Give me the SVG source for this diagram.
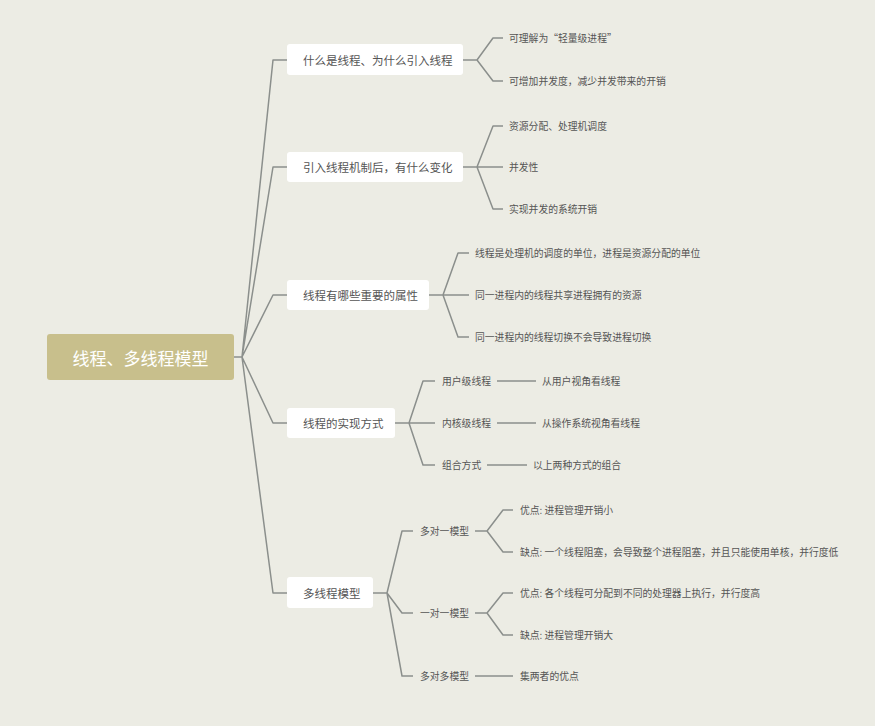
<svg xmlns="http://www.w3.org/2000/svg" width="875" height="726" viewBox="0 0 875 726">
<style>
.ln{fill:none;stroke:#8b8f8c;stroke-width:1.5;stroke-linejoin:round}
.box{fill:#ffffff}
.t1{font-family:"Noto Sans CJK SC","Liberation Serif",serif;font-size:11.5px;fill:#555555;dominant-baseline:central}
.t2{font-family:"Noto Sans CJK SC","Liberation Serif",serif;font-size:9.8px;fill:#555555;dominant-baseline:central}
.root{font-family:"Noto Sans CJK SC","Liberation Serif",serif;font-size:17px;fill:#ffffff;dominant-baseline:central;text-anchor:middle}
</style>
<rect width="875" height="726" fill="#ecece4"/>
<g id="connectors">
<path class="ln" d="M234 357H242L273 60H287M242 357L273 167H287M242 357L273 295H287M242 357L273 423H287M242 357L273 593H287"/>
<path class="ln" d="M463 60H477L493 38H503M477 60L493 81H503"/>
<path class="ln" d="M463 167H477L493 126H503M477 167H503M477 167L493 209H503"/>
<path class="ln" d="M429 295H443L458 253H469M443 295H469M443 295L458 337H469"/>
<path class="ln" d="M395 423H409L423 381H435M409 423H435M409 423L423 465H435"/>
<path class="ln" d="M497 381H536M497 423H536M487 465H527"/>
<path class="ln" d="M373 593H387L402 531H413M387 593L402 613H413M387 593L402 676H413"/>
<path class="ln" d="M475 531H487L503 510H513M487 531L503 552H513"/>
<path class="ln" d="M475 613H487L503 593H513M487 613L503 635H513"/>
<path class="ln" d="M475 676H513"/>
</g>
<g id="root">
<rect x="47" y="334" width="187" height="46" rx="3" fill="#c8bf8c"/>
<text class="root" x="140.5" y="357">线程、多线程模型</text>
</g>
<g id="n1">
<rect class="box" x="287" y="44" width="176" height="31" rx="3"/>
<text class="t1" x="303" y="60">什么是线程、为什么引入线程</text>
</g>
<g id="n1a"><text class="t2" x="509" y="38">可理解为“轻量级进程”</text></g>
<g id="n1b"><text class="t2" x="509" y="81">可增加并发度，减少并发带来的开销</text></g>
<g id="n2">
<rect class="box" x="287" y="152" width="176" height="30" rx="3"/>
<text class="t1" x="303" y="167">引入线程机制后，有什么变化</text>
</g>
<g id="n2a"><text class="t2" x="509" y="126">资源分配、处理机调度</text></g>
<g id="n2b"><text class="t2" x="509" y="167">并发性</text></g>
<g id="n2c"><text class="t2" x="509" y="209">实现并发的系统开销</text></g>
<g id="n3">
<rect class="box" x="287" y="280" width="142" height="30" rx="3"/>
<text class="t1" x="303" y="295">线程有哪些重要的属性</text>
</g>
<g id="n3a"><text class="t2" x="475" y="253">线程是处理机的调度的单位，进程是资源分配的单位</text></g>
<g id="n3b"><text class="t2" x="475" y="295">同一进程内的线程共享进程拥有的资源</text></g>
<g id="n3c"><text class="t2" x="475" y="337">同一进程内的线程切换不会导致进程切换</text></g>
<g id="n4">
<rect class="box" x="287" y="408" width="108" height="30" rx="3"/>
<text class="t1" x="303" y="423">线程的实现方式</text>
</g>
<g id="n4a"><text class="t2" x="442" y="381">用户级线程</text></g>
<g id="n4a1"><text class="t2" x="542" y="381">从用户视角看线程</text></g>
<g id="n4b"><text class="t2" x="442" y="423">内核级线程</text></g>
<g id="n4b1"><text class="t2" x="542" y="423">从操作系统视角看线程</text></g>
<g id="n4c"><text class="t2" x="442" y="465">组合方式</text></g>
<g id="n4c1"><text class="t2" x="533" y="465">以上两种方式的组合</text></g>
<g id="n5">
<rect class="box" x="287" y="577" width="86" height="31" rx="3"/>
<text class="t1" x="303" y="593">多线程模型</text>
</g>
<g id="n5a"><text class="t2" x="420" y="531">多对一模型</text></g>
<g id="n5a1"><text class="t2" x="520" y="510">优点: 进程管理开销小</text></g>
<g id="n5a2"><text class="t2" x="520" y="552">缺点: 一个线程阻塞，会导致整个进程阻塞，并且只能使用单核，并行度低</text></g>
<g id="n5b"><text class="t2" x="420" y="613">一对一模型</text></g>
<g id="n5b1"><text class="t2" x="520" y="593">优点: 各个线程可分配到不同的处理器上执行，并行度高</text></g>
<g id="n5b2"><text class="t2" x="520" y="635">缺点: 进程管理开销大</text></g>
<g id="n5c"><text class="t2" x="420" y="676">多对多模型</text></g>
<g id="n5c1"><text class="t2" x="520" y="676">集两者的优点</text></g>
</svg>
